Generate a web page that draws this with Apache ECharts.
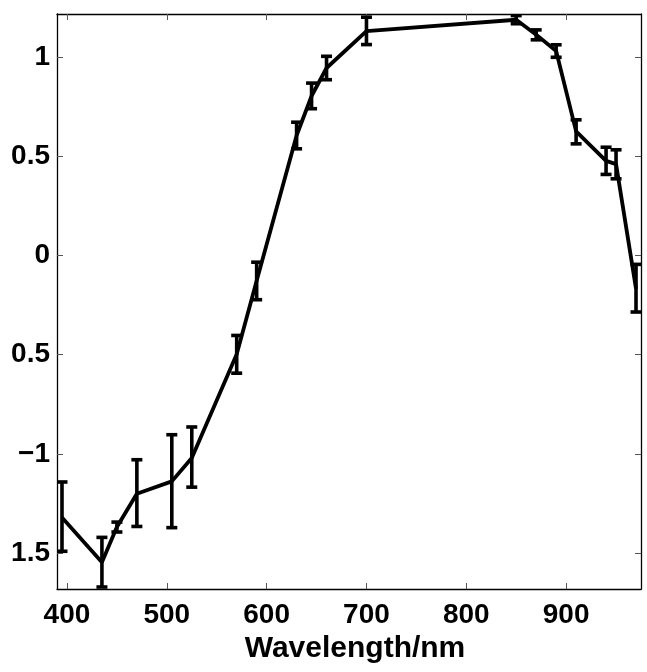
<!DOCTYPE html>
<html>
<head>
<meta charset="utf-8">
<script src="https://cdn.jsdelivr.net/npm/echarts@6/dist/echarts.min.js"></script>
<style>
  html, body { margin: 0; padding: 0; background: #fff; }
  #chart { width: 647px; height: 672px; }
</style>
</head>
<body>
<div id="chart"></div>
<script>
// Spectral response with error bars
var wavelengths = [395, 435, 450, 470, 505, 525, 570, 590, 630, 645, 660, 700, 850, 870, 890, 910, 940, 950, 970];
var means      = [-1.32, -1.545, -1.368, -1.20, -1.138, -1.02, -0.498, -0.128, 0.604, 0.803, 0.944, 1.13, 1.187, 1.112, 1.03, 0.625, 0.476, 0.46, -0.167];
var errLow     = [-1.49, -1.67, -1.393, -1.365, -1.371, -1.167, -0.593, -0.223, 0.537, 0.739, 0.885, 1.062, 1.167, 1.086, 0.998, 0.562, 0.408, 0.386, -0.285];
var errHigh    = [-1.141, -1.42, -1.343, -1.029, -0.903, -0.864, -0.403, -0.034, 0.671, 0.868, 1.003, 1.2, 1.208, 1.136, 1.061, 0.683, 0.545, 0.532, -0.045];

var xTicks = [400, 500, 600, 700, 800, 900];
var yTicks = [-1.5, -1, -0.5, 0, 0.5, 1];
var yTickLabels = ['1.5', '\u22121', '0.5', '0', '0.5', '1'];

var FONT = '"Liberation Sans", Arial, Helvetica, sans-serif';

var lineData = wavelengths.map(function (w, i) { return [w, means[i]]; });
var errData = wavelengths.map(function (w, i) { return [w, errLow[i], errHigh[i]]; });

var chart = echarts.init(document.getElementById('chart'), null, { renderer: 'canvas' });

function tickAxisCommon() {
  return {
    axisLine: { show: true, onZero: false, lineStyle: { color: '#000', width: 1.3 } },
    axisTick: { show: true, inside: true, length: 6, lineStyle: { color: '#555', width: 1 } },
    splitLine: { show: false }
  };
}

var xBottom = Object.assign(tickAxisCommon(), {
  type: 'value', position: 'bottom', min: 390, max: 975,
  name: 'Wavelength/nm', nameLocation: 'middle', nameGap: 44,
  nameTextStyle: { fontFamily: FONT, fontWeight: 'bold', fontSize: 30, color: '#000', padding: [0, 0, 0, 12] },
  axisLabel: { show: true, customValues: xTicks, margin: 12, fontFamily: FONT, fontWeight: 'bold', fontSize: 28, color: '#000' }
});
xBottom.axisTick.customValues = xTicks;

var xTop = Object.assign(tickAxisCommon(), {
  type: 'value', position: 'top', min: 390, max: 975,
  axisLabel: { show: false }
});
xTop.axisTick.customValues = xTicks;

var yLeft = Object.assign(tickAxisCommon(), {
  type: 'value', position: 'left', min: -1.68, max: 1.216,
  axisLabel: {
    show: true, customValues: yTicks, margin: 7,
    fontFamily: FONT, fontWeight: 'bold', fontSize: 28, color: '#000',
    formatter: function (v) {
      var idx = yTicks.findIndex(function (t) { return Math.abs(t - v) < 1e-9; });
      return idx >= 0 ? yTickLabels[idx] : '';
    }
  }
});
yLeft.axisTick.customValues = yTicks;

var yRight = Object.assign(tickAxisCommon(), {
  type: 'value', position: 'right', min: -1.68, max: 1.216,
  axisLabel: { show: false }
});
yRight.axisTick.customValues = yTicks;

chart.setOption({
  animation: false,
  backgroundColor: '#fff',
  grid: { left: 57, right: 6, top: 14, bottom: 83, containLabel: false },
  xAxis: [xBottom, xTop],
  yAxis: [yLeft, yRight],
  series: [
    {
      type: 'line',
      xAxisIndex: 0, yAxisIndex: 0,
      data: lineData,
      showSymbol: false,
      symbol: 'none',
      lineStyle: { color: '#000', width: 3.8 },
      clip: true,
      z: 3
    },
    {
      type: 'custom',
      xAxisIndex: 0, yAxisIndex: 0,
      data: errData,
      clip: true,
      z: 4,
      renderItem: function (params, api) {
        var x = api.value(0);
        var lo = api.coord([x, api.value(1)]);
        var hi = api.coord([x, api.value(2)]);
        var half = 5.5;
        var style = { stroke: '#000', lineWidth: 3.6, fill: null };
        return {
          type: 'group',
          children: [
            { type: 'line', shape: { x1: lo[0], y1: lo[1], x2: hi[0], y2: hi[1] }, style: style },
            { type: 'line', shape: { x1: hi[0] - half, y1: hi[1], x2: hi[0] + half, y2: hi[1] }, style: style },
            { type: 'line', shape: { x1: lo[0] - half, y1: lo[1], x2: lo[0] + half, y2: lo[1] }, style: style }
          ]
        };
      }
    }
  ]
});
</script>
</body>
</html>
